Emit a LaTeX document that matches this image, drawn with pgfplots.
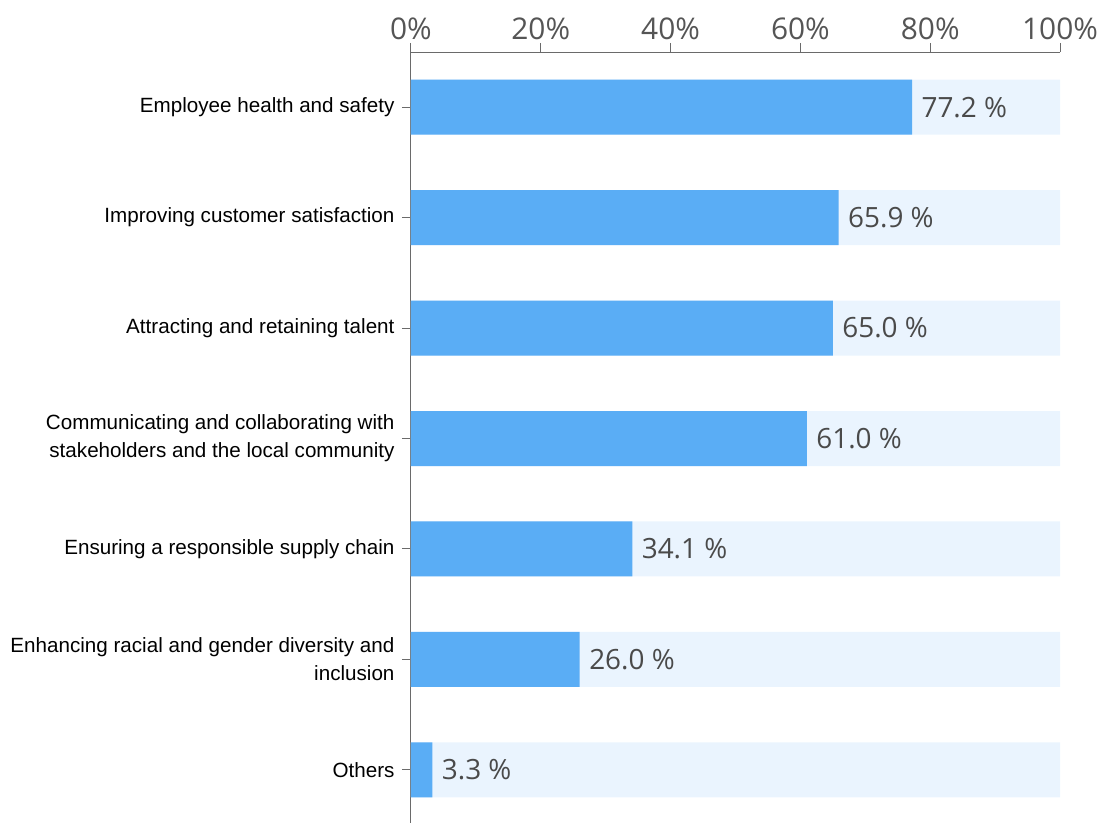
\documentclass[border=0pt]{standalone}
\usepackage{pgfplots}
\pgfplotsset{compat=1.18}
\usepackage{fontspec}
\setmainfont{Liberation Sans}
\newfontfamily\numfont{Open Sans}
\definecolor{barblue}{HTML}{5AADF5}
\definecolor{bgblue}{HTML}{EAF4FE}
\definecolor{numgray}{HTML}{4A4A4A}
\definecolor{tickgray}{HTML}{555555}
\definecolor{axgray}{HTML}{6A6A6A}
\begin{document}
\begin{tikzpicture}
\begin{axis}[
  name=main,
  scale only axis,
  width=649bp, height=773bp,
  xmin=0, xmax=100, ymin=-0.5, ymax=6.5,
  y dir=reverse,
  axis x line*=top, axis y line*=left,
  axis line style={-, axgray, line width=1bp},
  x axis line style={-}, y axis line style={-},
  xtick={0,20,40,60,80,100},
  xticklabels={0\%,20\%,40\%,60\%,80\%,100\%},
  xticklabel style={font=\numfont\fontsize{30}{34}\selectfont, text=tickgray},
  ytick={0,1,2,3,4,5,6},
  yticklabels={
    Employee health and safety,
    Improving customer satisfaction,
    Attracting and retaining talent,
    {Communicating and collaborating with\\stakeholders and the local community},
    Ensuring a responsible supply chain,
    {Enhancing racial and gender diversity and\\inclusion},
    Others},
  yticklabel style={font=\fontsize{20.7}{28}\selectfont, align=right, text=black, xshift=-4bp},
  tick align=outside,
  major tick length=9bp,
  tick style={axgray, line width=1bp},
  xbar, bar width=55bp, bar shift=0pt,
  /pgf/number format/assume math mode=true,
  clip=false,
]
\addplot[fill=bgblue, draw=none] coordinates {
  (100,0) (100,1) (100,2) (100,3) (100,4) (100,5) (100,6)};
\addplot[fill=barblue, draw=none, point meta=x,
  nodes near coords={\pgfmathprintnumber[fixed,fixed zerofill,precision=1]{\pgfplotspointmeta}~\%},
  every node near coord/.append style={font=\numfont\fontsize{28}{34}\selectfont, text=numgray, anchor=west, xshift=6bp}]
  coordinates {
  (77.2,0) (65.9,1) (65.0,2) (61.0,3) (34.1,4) (26.0,5) (3.3,6)};
\end{axis}
\pgfresetboundingbox
\path (main.north west) ++(-411bp,52bp) rectangle ++(1105bp,-823bp);
\end{tikzpicture}
\end{document}
